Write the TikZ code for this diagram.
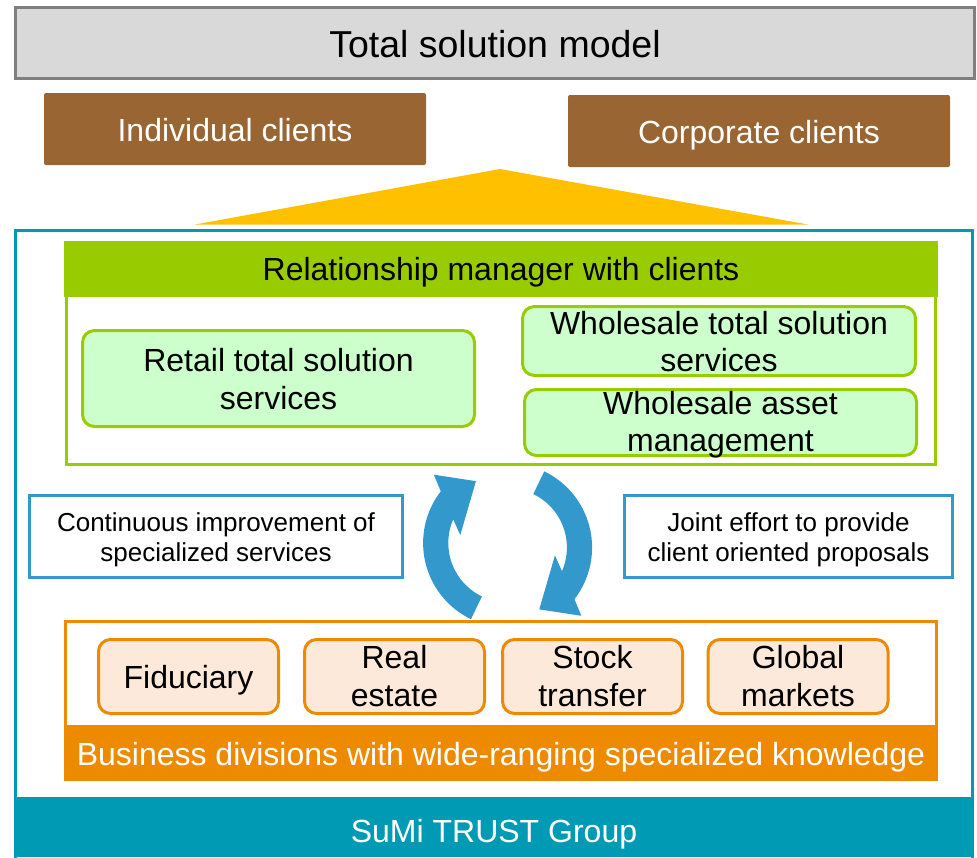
\documentclass[tikz,border=0pt]{standalone}
\usepackage{fontspec}
\setmainfont{Liberation Sans}
\definecolor{frameGray}{HTML}{7F7F7F}
\definecolor{titleFill}{HTML}{D9D9D9}
\definecolor{clientBrown}{HTML}{996633}
\definecolor{funnelYellow}{HTML}{FFC000}
\definecolor{groupTeal}{HTML}{009AB5}
\definecolor{rmGreen}{HTML}{99CC00}
\definecolor{svcFill}{HTML}{CCFFCC}
\definecolor{divOrange}{HTML}{EE8A00}
\definecolor{divFill}{HTML}{FDE9D9}
\definecolor{cycleBlue}{HTML}{3399CC}
\begin{document}
\begin{tikzpicture}[x=1pt,y=-1pt,
  every node/.style={inner sep=0pt, outer sep=0pt},
  lbl/.style={anchor=base, align=center},
  bigfont/.style={font=\fontsize{32}{37.5}\selectfont},
  notefont/.style={font=\fontsize{26}{30}\selectfont},
  clientbox/.style={fill=clientBrown, rounded corners=2pt, minimum width=382pt, minimum height=72pt},
  svcbox/.style={draw=rmGreen, fill=svcFill, line width=3pt, rounded corners=12pt},
  notebox/.style={draw=cycleBlue, line width=3pt, fill=white, minimum height=82pt},
  divbox/.style={draw=divOrange, fill=divFill, line width=3pt, rounded corners=12pt, minimum width=180pt, minimum height=74pt},
  pics/cyclearrow/.style={code={
    \fill[cycleBlue]
      plot[domain=115.7:217.7, samples=40] ({84.5*cos(\x)},{84.5*sin(\x)})
      -- ({100.5*cos(222.8)},{100.5*sin(222.8)})
      -- ({69.5*cos(242.9)},{69.5*sin(242.9)})
      -- ({48*cos(189.5)},{48*sin(189.5)})
      -- ({59.3*cos(203.5)},{59.3*sin(203.5)})
      -- plot[domain=203.5:115.7, samples=40] ({59.3*cos(\x)},{59.3*sin(\x)})
      -- cycle;
  }}
]
\useasboundingbox (0,0) rectangle (977,857);

% title bar
\node[draw=frameGray, fill=titleFill, line width=3pt, minimum width=959pt, minimum height=71pt] (title) at (495,43) {};
\node[lbl, font=\fontsize{37.5}{44}\selectfont] (titletxt) at (495,57.3) {Total solution model};

% client groups
\node[clientbox] (indiv) at (235,129) {};
\node[lbl, bigfont, text=white] (indivtxt) at (235,141.7) {Individual clients};
\node[clientbox] (corp) at (759,131) {};
\node[lbl, bigfont, text=white] (corptxt) at (759,143.3) {Corporate clients};

% funnel into the group
\fill[funnelYellow] (195,224.5) -- (500,169) -- (808,224.5) -- cycle;

% group frame and its band
\draw[groupTeal, line width=3.5pt] (15.5,230.5) rectangle (972.5,870);
\node[fill=groupTeal, minimum width=960pt, minimum height=60pt] (group) at (494,827) {};
\node[lbl, bigfont, text=white] (grouptxt) at (494,842) {SuMi TRUST Group};

% relationship manager block (multi-line labels sit on their last baseline)
\draw[rmGreen, line width=3pt] (66.5,242.5) rectangle (935.5,464.5);
\node[fill=rmGreen, minimum width=874pt, minimum height=56pt] (rm) at (501,269) {};
\node[lbl, bigfont] (rmtxt) at (501,280) {Relationship manager with clients};

\node[svcbox, minimum width=392pt, minimum height=96pt] (retail) at (278.5,378.5) {};
\node[lbl, bigfont] (retailtxt) at (278.5,409.3) {Retail total solution\\services};
\node[svcbox, minimum width=393pt, minimum height=69pt] (wts) at (719,341) {};
\node[lbl, bigfont] (wtstxt) at (719,371.7) {Wholesale total solution\\services};
\node[svcbox, minimum width=392pt, minimum height=66pt] (wam) at (720.5,422.5) {};
\node[lbl, bigfont] (wamtxt) at (720.5,451.7) {Wholesale asset\\management};

% side notes
\node[notebox, minimum width=373pt] (improve) at (216,536.5) {};
\node[lbl, notefont] (improvetxt) at (216,561.7) {Continuous improvement of\\specialized services};
\node[notebox, minimum width=328pt] (joint) at (788.5,536.5) {};
\node[lbl, notefont] (jointtxt) at (788.5,561.7) {Joint effort to provide\\client oriented proposals};

% business divisions block
\draw[divOrange, line width=3pt] (65.5,621.5) rectangle (936.5,779.5);
\node[fill=divOrange, minimum width=874pt, minimum height=56pt] (biz) at (501,753) {};
\node[lbl, bigfont, text=white] (biztxt) at (501,765) {Business divisions with wide-ranging specialized knowledge};

\node[divbox] (fid) at (188.5,676.5) {};
\node[lbl, bigfont] (fidtxt) at (188.5,688.3) {Fiduciary};
\node[divbox] (real) at (394.5,676.5) {};
\node[lbl, bigfont] (realtxt) at (394.5,706) {Real\\estate};
\node[divbox] (stock) at (592.5,676.5) {};
\node[lbl, bigfont] (stocktxt) at (592.5,706) {Stock\\transfer};
\node[divbox] (global) at (798,676.5) {};
\node[lbl, bigfont] (globaltxt) at (798,706) {Global\\markets};

% exchange cycle
\pic at (507.6,543) {cyclearrow};
\pic[rotate=180] at (507.6,547.5) {cyclearrow};
\end{tikzpicture}
\end{document}
